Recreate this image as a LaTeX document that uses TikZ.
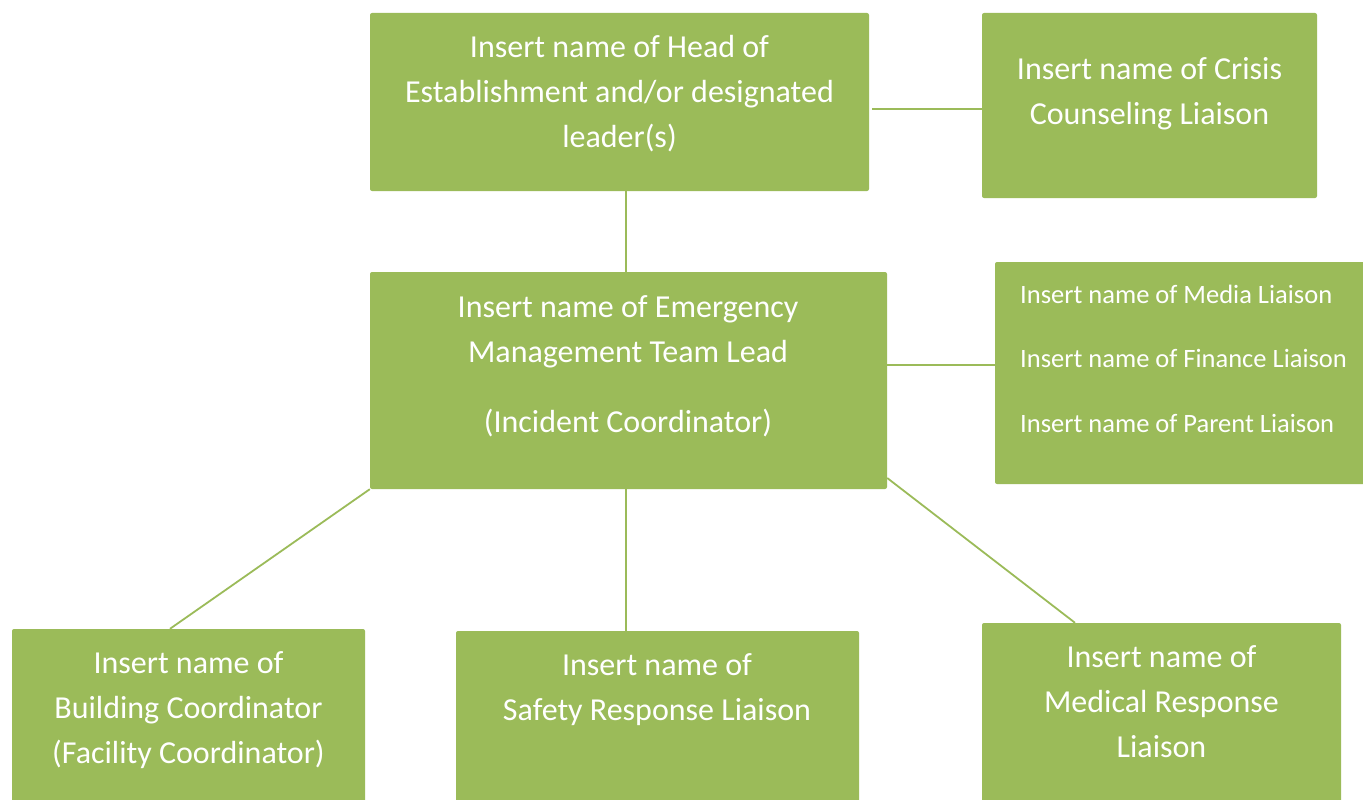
\documentclass[tikz,border=0pt]{standalone}
\usepackage{fontspec}
\setmainfont{Carlito}
\definecolor{olive}{HTML}{9BBB59}
\tikzset{
  box/.style={fill=olive, draw=none, rounded corners=2pt, inner sep=0pt},
  conn/.style={draw=olive, line width=1.8pt},
  lbl/.style={text=white, inner sep=0pt, anchor=north, align=center,
              font=\fontsize{32}{45}\selectfont},
  lbls/.style={text=white, inner sep=0pt, anchor=north west, align=left,
              font=\fontsize{26.5}{64.5}\selectfont},
}
\begin{document}
\begin{tikzpicture}[x=1pt, y=-1pt]
\useasboundingbox (0,0) rectangle (1363,800);
\clip (0,0) rectangle (1363,800);
% boxes
\node[box, minimum width=499pt, minimum height=178pt] (head) at (619.5,102) {};
\node[box, minimum width=335pt, minimum height=185pt] (crisis) at (1149.5,105.5) {};
\node[box, minimum width=517pt, minimum height=217pt] (emt) at (628.5,380.5) {};
\node[box, minimum width=373pt, minimum height=222pt] (liaisons) at (1181.5,373) {};
\node[box, minimum width=353pt, minimum height=177pt] (building) at (188.5,717.5) {};
\node[box, minimum width=403pt, minimum height=175pt] (safety) at (657.5,718.5) {};
\node[box, minimum width=359pt, minimum height=183pt] (medical) at (1161.5,714.5) {};
% connectors
\draw[conn] ([xshift=3pt]head.east |- 0,109) -- (crisis.west |- 0,109);
\draw[conn] (head.south -| 626,0) -- (emt.north -| 626,0);
\draw[conn] (emt.east |- 0,365) -- (liaisons.west |- 0,365);
\draw[conn] (emt.south west) -- (building.north -| 170,0);
\draw[conn] (emt.south -| 626,0) -- (safety.north -| 626,0);
\draw[conn] (emt.east |- 0,478) -- (medical.north -| 1075,0);
% texts
\node[lbl] (thead) at (619.5,26) {\strut Insert name of Head of\\Establishment and/or designated\\leader(s)};
\node[lbl] (tcrisis) at (1149.5,48) {\strut Insert name of Crisis\\Counseling Liaison};
\node[lbl] (temt) at (628,286) {\strut Insert name of Emergency\\Management Team Lead\\[25pt](Incident Coordinator)};
\node[lbls] (tliaisons) at (1020,258) {\strut Insert name of Media Liaison\\Insert name of Finance Liaison\\Insert name of Parent Liaison};
\node[lbl] (tbuilding) at (188.5,642) {\strut Insert name of\\Building Coordinator\\(Facility Coordinator)};
\node[lbl] (tsafety) at (657,644) {\strut Insert name of\\Safety Response Liaison};
\node[lbl] (tmedical) at (1161.5,636) {\strut Insert name of\\Medical Response\\Liaison};
\end{tikzpicture}
\end{document}
